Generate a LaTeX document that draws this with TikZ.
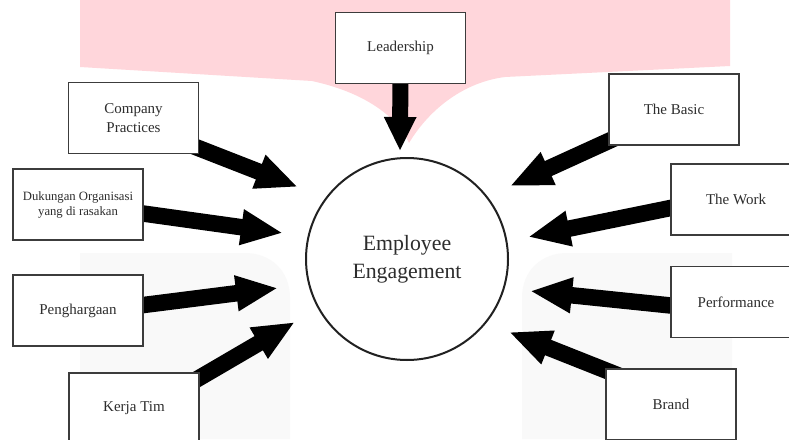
\documentclass[tikz,border=0pt]{standalone}
\usepackage{fontspec}
\setmainfont{Liberation Serif}
\usetikzlibrary{arrows.meta}
\definecolor{blush}{RGB}{255,214,219}
\definecolor{mist}{RGB}{249,249,249}
\definecolor{ink}{RGB}{45,45,45}
\definecolor{frame}{RGB}{60,60,60}
\pgfdeclarelayer{backdrop}
\pgfdeclarelayer{shafts}
\pgfsetlayers{backdrop,shafts,main}
\tikzset{
  factor/.style={draw=frame, line width=1.6pt, fill=white, text=ink,
    minimum width=130pt, minimum height=71pt, align=center, inner sep=2pt,
    font=\fontsize{15}{19.5}\selectfont},
  smallfactor/.style={factor, font=\fontsize{12.7}{15}\selectfont},
  hub/.style={circle, draw=black!87, line width=2pt, fill=white, text=ink,
    minimum size=202pt, align=center, font=\fontsize{21.8}{28}\selectfont},
  bigarrow/.style={line width=16.5pt, -{Triangle[length=42pt,width=33pt]}},
  toparrow/.style={line width=16pt, -{Triangle[length=34pt,width=30pt]}}
}
\begin{document}
\begin{tikzpicture}[x=1pt,y=-1pt]
\clip (0,0) rectangle (789,439);

% factor boxes
\node[factor] (lead)  at (400.5,48)  {Leadership};
\node[factor] (comp)  at (133.5,118) {Company\\Practices};
\node[factor] (basic) at (674,109.5) {The Basic};
\node[smallfactor] (duk) at (78,204.5) {Dukungan Organisasi\\yang di rasakan};
\node[factor] (peng)  at (78,310.5)  {Penghargaan};
\node[factor] (kerja) at (134,408.5) {Kerja Tim};
\node[factor] (work)  at (736,199.5) {The Work};
\node[factor] (perf)  at (736,302)   {Performance};
\node[factor] (brand) at (671,404.5) {Brand};

% central concept
\node[hub] (ee) at (407,259) {Employee\\Engagement};

% arrow tips just outside the circle
\coordinate (tLead)  at (400,151);
\coordinate (tComp)  at (298,187);
\coordinate (tDuk)   at (283,233);
\coordinate (tPeng)  at (278,288);
\coordinate (tKerja) at (295,322);
\coordinate (tBasic) at (510,186);
\coordinate (tWork)  at (528,237);
\coordinate (tPerf)  at (530,291);
\coordinate (tBrand) at (509,332);

% page and soft background shapes
\begin{pgfonlayer}{backdrop}
  \fill[white] (0,0) rectangle (789,439);
  \fill[blush] (80,0) -- (730,0) -- (730,66) -- (505,77)
    .. controls (465,82) and (430,108) .. (409,143)
    .. controls (400,122) and (372,94) .. (312,81)
    -- (80,67) -- cycle;
  \fill[mist] (80,439) -- (80,253) -- (245,253)
    .. controls (270,253) and (290,270) .. (290,298) -- (290,439) -- cycle;
  \fill[mist] (732,439) -- (732,253) -- (567,253)
    .. controls (542,253) and (522,270) .. (522,298) -- (522,439) -- cycle;
\end{pgfonlayer}

% arrows into the central concept
\begin{pgfonlayer}{shafts}
  \draw[toparrow] ([shift={(0,12)}]lead.center) -- (tLead);
  \draw[bigarrow] ([shift={(36.5,19)}]comp.center) -- (tComp);
  \draw[bigarrow] ([shift={(42,5.8)}]duk.center) -- (tDuk);
  \draw[bigarrow] ([shift={(42,-2.5)}]peng.center) -- (tPeng);
  \draw[bigarrow] ([shift={(36,-13.5)}]kerja.center) -- (tKerja);
  \draw[bigarrow] ([shift={(-39,19.5)}]basic.center) -- (tBasic);
  \draw[bigarrow] ([shift={(-41,3.5)}]work.center) -- (tWork);
  \draw[bigarrow] ([shift={(-41,6)}]perf.center) -- (tPerf);
  \draw[bigarrow] ([shift={(-36,-22.5)}]brand.center) -- (tBrand);
\end{pgfonlayer}
\end{tikzpicture}
\end{document}
